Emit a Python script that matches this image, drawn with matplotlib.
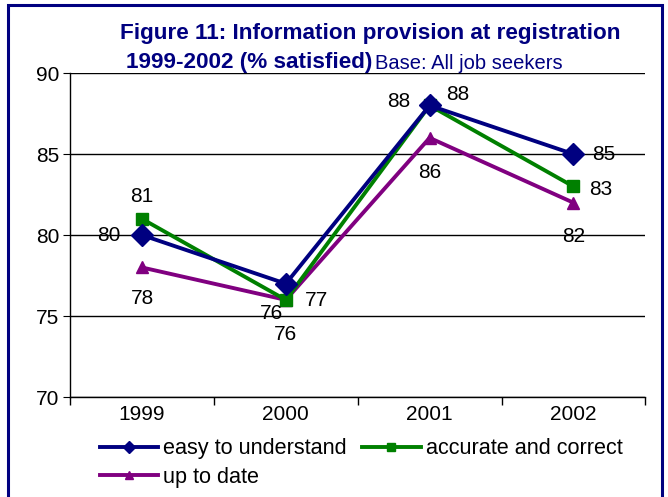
import matplotlib.pyplot as plt
from matplotlib.patches import Rectangle

plt.rcParams['font.family'] = ['Liberation Sans', 'DejaVu Sans']

years = ['1999', '2000', '2001', '2002']
easy = [80, 77, 88, 85]
accurate = [81, 76, 88, 83]
uptodate = [78, 76, 86, 82]

navy = '#000080'
green = '#008000'
purple = '#800080'

fig = plt.figure(figsize=(6.68, 4.97), dpi=100)
ax = fig.add_axes([0.105, 0.201, 0.861, 0.652])

x = list(range(len(years)))
l1, = ax.plot(x, easy, color=navy, lw=2.8, marker='D', ms=11, label='easy to understand', zorder=5)
l2, = ax.plot(x, accurate, color=green, lw=2.8, marker='s', ms=9, label='accurate and correct', zorder=4)
l3, = ax.plot(x, uptodate, color=purple, lw=2.8, marker='^', ms=9, label='up to date', zorder=3)

# data labels (offsets in points)
fs = 15
off_easy = [(-24, 0), (22, -12), (-22, 3), (22, 0)]
off_acc = [(0, 16), (-10, -10), (20, 8), (20, -2)]
off_up = [(0, -22), (0, -25), (0, -25), (0, -24)]
for vals, offs in ((easy, off_easy), (accurate, off_acc), (uptodate, off_up)):
    for xi, v, (dx, dy) in zip(x, vals, offs):
        ax.annotate(str(v), (xi, v), xytext=(dx, dy), textcoords='offset points',
                    ha='center', va='center', fontsize=fs, color='black', zorder=6)

ax.set_xlim(-0.5, 3.5)
ax.set_ylim(70, 90)
ax.set_yticks([70, 75, 80, 85, 90])
ax.set_xticks([-0.5, 0.5, 1.5, 2.5, 3.5])
ax.set_xticklabels([])
ax.set_xticks(x, minor=True)
ax.set_xticklabels(years, minor=True)
ax.tick_params(axis='x', which='major', length=6, direction='out', width=1)
ax.tick_params(axis='x', which='minor', length=0, labelsize=fs, pad=6)
ax.tick_params(axis='y', length=5, direction='out', labelsize=fs, pad=3)
ax.grid(axis='y', color='black', lw=1)
ax.set_axisbelow(True)
for s in ('top', 'right'):
    ax.spines[s].set_visible(False)
ax.spines['left'].set_linewidth(1)
ax.spines['bottom'].set_linewidth(1)

fig.text(0.555, 0.933, 'Figure 11: Information provision at registration',
         ha='center', va='center', fontsize=16.2, fontweight='bold', color=navy)
t = fig.text(0.189, 0.875, '1999-2002 (% satisfied)', ha='left', va='center',
             fontsize=16.2, fontweight='bold', color=navy)
fig.canvas.draw()
bb = t.get_window_extent()
fig.text(bb.x1 / fig.bbox.width + 0.004, 0.873, 'Base: All job seekers', ha='left',
         va='center', fontsize=14.5, color=navy)

ax.legend([l1, l3, l2], [l1.get_label(), l3.get_label(), l2.get_label()],
          loc='upper left', bbox_to_anchor=(0.036, -0.1), ncol=2, frameon=False,
          fontsize=15.6, handlelength=2.7, handletextpad=0.25, columnspacing=0.7,
          labelspacing=0.35, borderaxespad=0, markerscale=0.6)

fig.add_artist(Rectangle((8 / 668, -0.1), 654 / 668, 1.1 - 5 / 497,
                         transform=fig.transFigure, fill=False, ec=navy, lw=2.2))

fig.savefig('out.png', dpi=100)
